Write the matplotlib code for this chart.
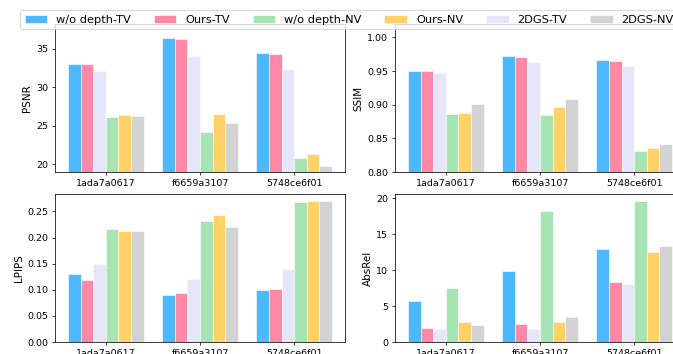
import numpy as np
import matplotlib
matplotlib.use("Agg")
import matplotlib.pyplot as plt

scenes = ["1ada7a0617", "f6659a3107", "5748ce6f01"]
methods = ["w/o depth-TV", "Ours-TV", "2DGS-TV", "w/o depth-NV", "Ours-NV", "2DGS-NV"]
colors = ["#4db8ff", "#ff88a6", "#e6e6fa", "#a6e4b3", "#ffd166", "#d3d3d3"]
legend_order = ["w/o depth-TV", "Ours-TV", "w/o depth-NV", "Ours-NV", "2DGS-TV", "2DGS-NV"]

# rows = scenes, cols = methods
psnr = np.array([[33.05, 32.95, 32.1, 26.1, 26.4, 26.3],
                 [36.4, 36.3, 34.1, 24.15, 26.5, 25.3],
                 [34.5, 34.35, 32.3, 20.8, 21.4, 19.8]])
ssim = np.array([[0.950, 0.950, 0.947, 0.886, 0.887, 0.901],
                 [0.972, 0.971, 0.964, 0.885, 0.897, 0.908],
                 [0.966, 0.965, 0.957, 0.831, 0.836, 0.841]])
lpips = np.array([[0.131, 0.119, 0.150, 0.217, 0.212, 0.213],
                  [0.090, 0.093, 0.120, 0.231, 0.244, 0.220],
                  [0.099, 0.101, 0.140, 0.269, 0.270, 0.270]])
absrel = np.array([[5.67, 1.95, 1.77, 7.55, 2.84, 2.42],
                   [9.86, 2.56, 1.77, 18.2, 2.84, 3.49],
                   [12.98, 8.33, 8.14, 19.63, 12.51, 13.3]])

panels = [("PSNR", psnr, (19.0, 38.2)),
          ("SSIM", ssim, (0.80, 1.02)),
          ("LPIPS", lpips, (0.0, 0.2835)),
          ("AbsRel", absrel, (0.0, 20.6))]

dpi = 68
W, H = 673, 354
fig = plt.figure(figsize=(W / dpi, H / dpi), dpi=dpi)

# axes boxes in pixels: left, top, right, bottom
boxes = [(55, 24, 345, 172), (395, 24, 685, 172),
         (55, 194, 345, 342), (395, 194, 685, 342)]

x = np.arange(len(scenes))
width = 0.8 / len(methods)
handles = {}
for (name, data, lim), (l, t, r, b) in zip(panels, boxes):
    ax = fig.add_axes([l / W, 1 - b / H, (r - l) / W, (b - t) / H])
    for i, m in enumerate(methods):
        bars = ax.bar(x + (i - 2.5) * width, data[:, i], width,
                      color=colors[i], edgecolor="white", linewidth=0.6, label=m)
        handles[m] = bars
    ax.set_xticks(x)
    ax.set_xticklabels(scenes)
    ax.set_ylabel(name, fontsize=11)
    ax.set_ylim(*lim)

leg = fig.legend([handles[m] for m in legend_order], legend_order,
                 loc="upper left", bbox_to_anchor=(20 / W, 1 - 10 / H),
                 ncol=6, fontsize=12, borderaxespad=0)

fig.savefig("out.png", dpi=dpi)
